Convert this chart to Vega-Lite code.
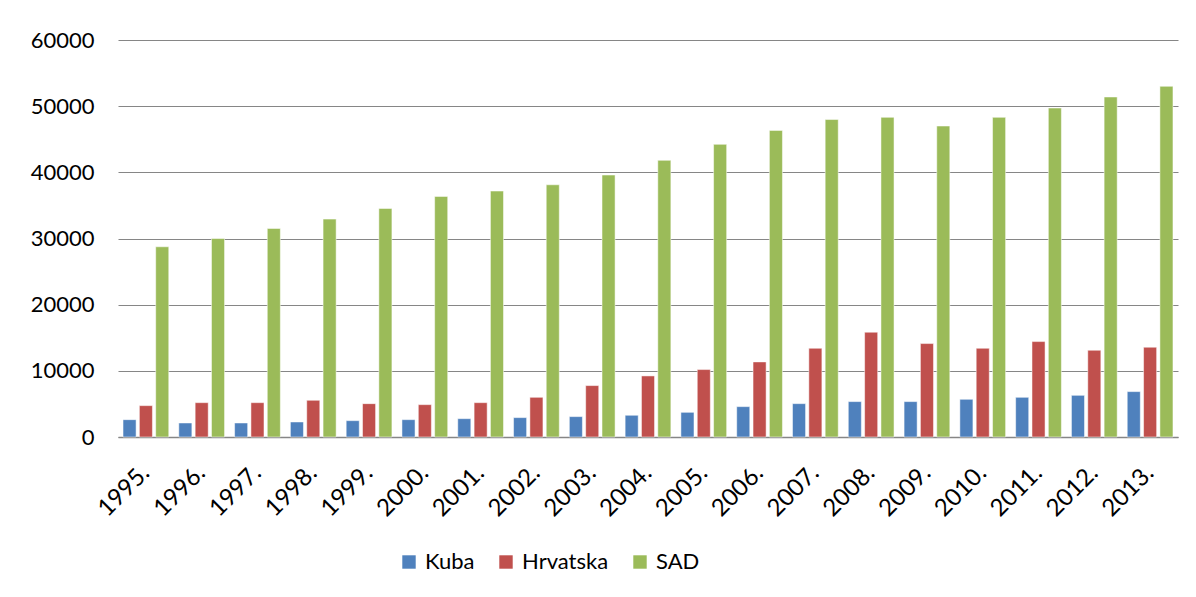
{
  "$schema": "https://vega.github.io/schema/vega-lite/v6.json",
  "width": 1060,
  "height": 397,
  "padding": {"left": 30, "top": 29, "right": 10, "bottom": 5},
  "background": "white",
  "config": {
    "font": "Lato",
    "view": {"stroke": null},
    "axis": {"labelFont": "Lato", "labelFontSize": 22, "labelColor": "#000000"}
  },
  "data": {
    "values": [
      {"year": "1995.", "country": "Kuba", "value": 2620},
      {"year": "1995.", "country": "Hrvatska", "value": 4740},
      {"year": "1995.", "country": "SAD", "value": 28750},
      {"year": "1996.", "country": "Kuba", "value": 2120},
      {"year": "1996.", "country": "Hrvatska", "value": 5190},
      {"year": "1996.", "country": "SAD", "value": 30000},
      {"year": "1997.", "country": "Kuba", "value": 2120},
      {"year": "1997.", "country": "Hrvatska", "value": 5190},
      {"year": "1997.", "country": "SAD", "value": 31520},
      {"year": "1998.", "country": "Kuba", "value": 2270},
      {"year": "1998.", "country": "Hrvatska", "value": 5550},
      {"year": "1998.", "country": "SAD", "value": 32930},
      {"year": "1999.", "country": "Kuba", "value": 2470},
      {"year": "1999.", "country": "Hrvatska", "value": 5040},
      {"year": "1999.", "country": "SAD", "value": 34540},
      {"year": "2000.", "country": "Kuba", "value": 2620},
      {"year": "2000.", "country": "Hrvatska", "value": 4890},
      {"year": "2000.", "country": "SAD", "value": 36360},
      {"year": "2001.", "country": "Kuba", "value": 2770},
      {"year": "2001.", "country": "Hrvatska", "value": 5190},
      {"year": "2001.", "country": "SAD", "value": 37170},
      {"year": "2002.", "country": "Kuba", "value": 2930},
      {"year": "2002.", "country": "Hrvatska", "value": 6000},
      {"year": "2002.", "country": "SAD", "value": 38120},
      {"year": "2003.", "country": "Kuba", "value": 3080},
      {"year": "2003.", "country": "Hrvatska", "value": 7770},
      {"year": "2003.", "country": "SAD", "value": 39590},
      {"year": "2004.", "country": "Kuba", "value": 3280},
      {"year": "2004.", "country": "Hrvatska", "value": 9230},
      {"year": "2004.", "country": "SAD", "value": 41810},
      {"year": "2005.", "country": "Kuba", "value": 3730},
      {"year": "2005.", "country": "Hrvatska", "value": 10190},
      {"year": "2005.", "country": "SAD", "value": 44230},
      {"year": "2006.", "country": "Kuba", "value": 4590},
      {"year": "2006.", "country": "Hrvatska", "value": 11350},
      {"year": "2006.", "country": "SAD", "value": 46340},
      {"year": "2007.", "country": "Kuba", "value": 5040},
      {"year": "2007.", "country": "Hrvatska", "value": 13410},
      {"year": "2007.", "country": "SAD", "value": 47980},
      {"year": "2008.", "country": "Kuba", "value": 5350},
      {"year": "2008.", "country": "Hrvatska", "value": 15840},
      {"year": "2008.", "country": "SAD", "value": 48310},
      {"year": "2009.", "country": "Kuba", "value": 5350},
      {"year": "2009.", "country": "Hrvatska", "value": 14120},
      {"year": "2009.", "country": "SAD", "value": 47000},
      {"year": "2010.", "country": "Kuba", "value": 5700},
      {"year": "2010.", "country": "Hrvatska", "value": 13410},
      {"year": "2010.", "country": "SAD", "value": 48310},
      {"year": "2011.", "country": "Kuba", "value": 6000},
      {"year": "2011.", "country": "Hrvatska", "value": 14420},
      {"year": "2011.", "country": "SAD", "value": 49720},
      {"year": "2012.", "country": "Kuba", "value": 6300},
      {"year": "2012.", "country": "Hrvatska", "value": 13110},
      {"year": "2012.", "country": "SAD", "value": 51390},
      {"year": "2013.", "country": "Kuba", "value": 6860},
      {"year": "2013.", "country": "Hrvatska", "value": 13570},
      {"year": "2013.", "country": "SAD", "value": 53000}
    ]
  },
  "mark": {"type": "bar", "stroke": "white", "strokeWidth": 1, "strokeOpacity": 0.5},
  "encoding": {
    "x": {
      "field": "year",
      "type": "nominal",
      "sort": null,
      "scale": {"paddingInner": 0.18, "paddingOuter": 0.09},
      "axis": {
        "title": null,
        "labelAngle": -45,
        "labelAlign": "right",
        "labelBaseline": "middle",
        "labelPadding": 32,
        "labelFontSize": 24,
        "ticks": false,
        "domainColor": "#868686",
        "domainWidth": 1.5
      }
    },
    "xOffset": {
      "field": "country",
      "type": "nominal",
      "sort": ["Kuba", "Hrvatska", "SAD"],
      "scale": {"paddingInner": 0.2}
    },
    "y": {
      "field": "value",
      "type": "quantitative",
      "scale": {"domain": [0, 60000]},
      "axis": {
        "title": null,
        "values": [0, 10000, 20000, 30000, 40000, 50000, 60000],
        "format": "d",
        "ticks": false,
        "domain": false,
        "labelPadding": 24,
        "gridColor": "#868686",
        "gridWidth": 1.2
      }
    },
    "color": {
      "field": "country",
      "type": "nominal",
      "sort": ["Kuba", "Hrvatska", "SAD"],
      "scale": {"domain": ["Kuba", "Hrvatska", "SAD"], "range": ["#4F81BD", "#C0504D", "#9BBB59"]},
      "legend": {
        "title": null,
        "orient": "none",
        "direction": "horizontal",
        "legendX": 280,
        "legendY": 511,
        "symbolType": "square",
        "symbolSize": 180,
        "symbolStrokeWidth": 0,
        "labelFont": "Lato",
        "labelFontSize": 22,
        "labelColor": "#000000",
        "labelOffset": 5,
        "columnPadding": 20
      }
    }
  }
}
